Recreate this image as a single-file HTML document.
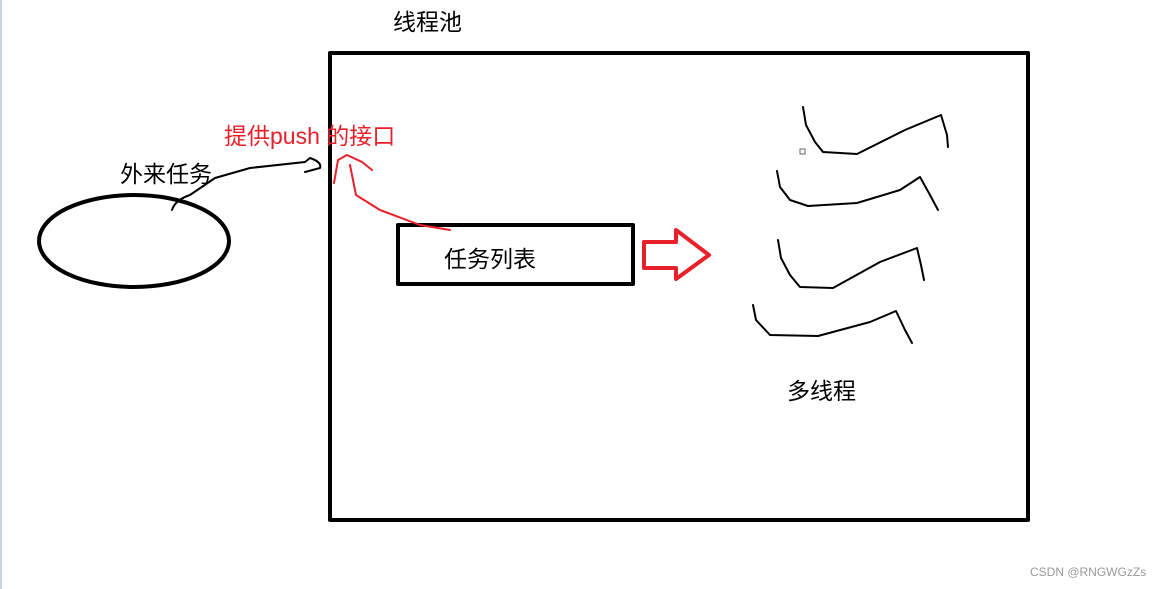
<!DOCTYPE html>
<html><head><meta charset="utf-8"><style>
body{margin:0;width:1163px;height:589px;background:#fff;overflow:hidden;position:relative;font-family:"Liberation Sans","Noto Sans CJK SC",sans-serif}
.t{position:absolute;white-space:nowrap;font-size:23px;color:#000;line-height:1}
</style></head><body>
<div style="position:absolute;left:0;top:0;width:2px;height:589px;background:#c8d4e4"></div>
<svg width="1163" height="589" style="position:absolute;left:0;top:0" fill="none" stroke-linecap="round" stroke-linejoin="round">
<rect x="330" y="53" width="698" height="467" stroke="#000" stroke-width="4"/>
<rect x="398" y="225" width="235" height="59" stroke="#000" stroke-width="4"/>
<ellipse cx="134" cy="241" rx="95" ry="46" stroke="#000" stroke-width="4"/>
<path d="M172 210 Q175 200 190 195 L215 178 L250 168 L305 162 L310 158 Q322 162 320 168 L305 172" stroke="#000" stroke-width="2"/>
<path d="M334 183 L338 160 L347 155 L362 162 L372 170 M350 165 L356 195 L380 210 L420 225 L450 230" stroke="#e8202a" stroke-width="2"/>
<path d="M644 242 L676 242 L676 230 L709 255 L676 279 L676 268 L644 268 Z" stroke="#e8202a" stroke-width="4"/>
<g stroke="#000" stroke-width="2">
<path d="M803 107 L806 125 L815 142 L823 152 L857 154 L905 130 L941 115 L947 135 L948 147"/>
<path d="M777 171 L780 187 L790 200 L808 206 L857 203 L900 190 L920 177 L930 195 L938 210"/>
<path d="M778 240 L781 258 L790 275 L800 287 L833 288 L880 262 L917 248 L921 265 L924 280"/>
<path d="M753 305 L756 320 L770 335 L818 336 L870 322 L896 311 L905 330 L912 343"/>
</g>
<rect x="800" y="149" width="5" height="5" stroke="#666" stroke-width="1"/>
</svg>
<div class="t" style="left:393px;top:11px">线程池</div>
<div class="t" style="left:224px;top:125px;color:#e8202a">提供push 的接口</div>
<div class="t" style="left:120px;top:163px">外来任务</div>
<div class="t" style="left:444px;top:248px">任务列表</div>
<div class="t" style="left:787px;top:380px">多线程</div>
<div class="t" style="left:1030px;top:566px;font-size:12px;color:#999">CSDN @RNGWGzZs</div>
</body></html>
